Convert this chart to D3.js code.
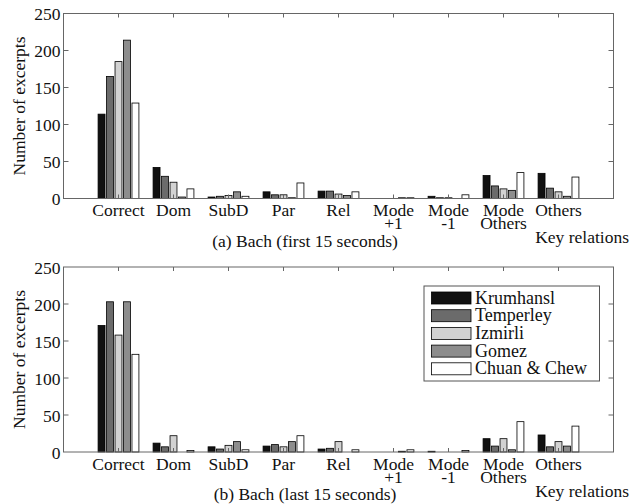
<!DOCTYPE html>
<html><head><meta charset="utf-8">
<script src="https://cdn.jsdelivr.net/npm/d3@7/dist/d3.min.js"></script>
<style>body{margin:0;background:#fff}svg{display:block}text{font-family:"Liberation Serif","Times New Roman",serif;fill:#111}</style>
</head><body><svg id="c" width="643" height="504"></svg>
<script>
const categories = ["Correct","Dom","SubD","Par","Rel","Mode\n+1","Mode\n-1","Mode\nOthers","Others"];
const seriesNames = ["Krumhansl","Temperley","Izmirli","Gomez","Chuan & Chew"];
const seriesColors = ["#111111","#6b6b6b","#d2d2d2","#8d8d8d","#ffffff"];
const yTicks = [0,50,100,150,200,250];
// (a) first 15 seconds
const firstKrumhansl = [114,42,2,9,10,0,3,31,34];
const firstTemperley = [165,30,3,5,10,0,1,17,14];
const firstIzmirli   = [185,22,4,5,6,0,1,13,9];
const firstGomez     = [214,2,9,1,4,1,0,11,3];
const firstChuan     = [129,13,3,21,9,1,5,35,29];
// (b) last 15 seconds
const lastKrumhansl = [171,12,7,8,4,0,1,18,23];
const lastTemperley = [203,7,4,10,5,0,0,8,7];
const lastIzmirli   = [158,22,9,7,14,0,0,18,14];
const lastGomez     = [203,0,14,14,0,1,0,3,8];
const lastChuan     = [132,2,3,22,3,3,2,41,35];

const panels = [
  {top:13.5, bottom:198.5, caption:"(a) Bach (first 15 seconds)", data:[firstKrumhansl,firstTemperley,firstIzmirli,firstGomez,firstChuan], legend:false},
  {top:267, bottom:452, caption:"(b) Bach (last 15 seconds)", data:[lastKrumhansl,lastTemperley,lastIzmirli,lastGomez,lastChuan], legend:true}
];
const FS = 17.5;
const svg = d3.select("#c");
const left = 63.5, right = 613.5;
const x = d3.scaleBand().domain(categories).range([left,right]).paddingInner(0).paddingOuter(0.5);
const groupW = x.step()*0.77;
const xs = d3.scaleBand().domain(d3.range(seriesNames.length)).range([-groupW/2, groupW/2]).paddingInner(0.18).paddingOuter(0.09);
const axisColor = "#666";
panels.forEach(p => {
  const y = d3.scaleLinear().domain([0,250]).range([p.bottom,p.top]);
  const g = svg.append("g");
  p.data.forEach((vals,si) => {
    g.selectAll(null).data(vals).enter().append("rect")
      .attr("x",(d,i)=>x(categories[i])+x.bandwidth()/2+xs(si))
      .attr("width",xs.bandwidth())
      .attr("y",d=>y(d)).attr("height",d=>y(0)-y(d))
      .attr("fill",seriesColors[si]).attr("stroke","#000").attr("stroke-width",0.8);
  });
  g.append("rect").attr("x",left).attr("y",p.top).attr("width",right-left).attr("height",p.bottom-p.top)
    .attr("fill","none").attr("stroke",axisColor).attr("stroke-width",1);
  categories.forEach(c => {
    const cx = x(c)+x.bandwidth()/2;
    g.append("line").attr("x1",cx).attr("x2",cx).attr("y1",p.top).attr("y2",p.top+4).attr("stroke",axisColor);
    g.append("line").attr("x1",cx).attr("x2",cx).attr("y1",p.bottom).attr("y2",p.bottom-4).attr("stroke",axisColor);
    const lines = c.split("\n");
    const t = g.append("text").attr("x",cx).attr("y",p.bottom+17.5).attr("text-anchor","middle").attr("font-size",FS);
    lines.forEach((l,k)=>t.append("tspan").attr("x",cx).attr("dy",k?13:0).text(l));
  });
  const ya = d3.axisLeft(y).tickValues(yTicks).tickSize(0).tickPadding(3);
  const yg = g.append("g").attr("transform",`translate(${left},0)`).call(ya);
  yg.select(".domain").remove();
  yg.selectAll("text").attr("font-size",FS).attr("fill","#111").attr("dy","0.35em");
  yTicks.forEach(v=>{
    if(v===0||v===250) return;
    g.append("line").attr("x1",left).attr("x2",left+5).attr("y1",y(v)).attr("y2",y(v)).attr("stroke",axisColor);
    g.append("line").attr("x1",right).attr("x2",right-5).attr("y1",y(v)).attr("y2",y(v)).attr("stroke",axisColor);
  });
  g.append("text").attr("transform",`translate(24.5,${(p.top+p.bottom)/2}) rotate(-90)`).attr("text-anchor","middle")
    .attr("font-size",FS).text("Number of excerpts");
  g.append("text").attr("x",305).attr("y",p.bottom+48).attr("text-anchor","middle").attr("font-size",FS).text(p.caption);
  g.append("text").attr("x",629).attr("y",p.bottom+44.5).attr("text-anchor","end").attr("font-size",FS).text("Key relations");
  if(p.legend){
    const lg = g.append("g");
    lg.append("rect").attr("x",424).attr("y",286).attr("width",175.5).attr("height",95).attr("fill","#fff").attr("stroke","#555");
    seriesNames.forEach((n,i)=>{
      const cy = 298 + i*17.7;
      lg.append("rect").attr("x",431.5).attr("y",cy-6).attr("width",39.5).attr("height",12).attr("fill",seriesColors[i]).attr("stroke","#000").attr("stroke-width",0.8);
      lg.append("text").attr("x",475).attr("y",cy+5.5).attr("font-size",18).text(n);
    });
  }
});
</script></body></html>
